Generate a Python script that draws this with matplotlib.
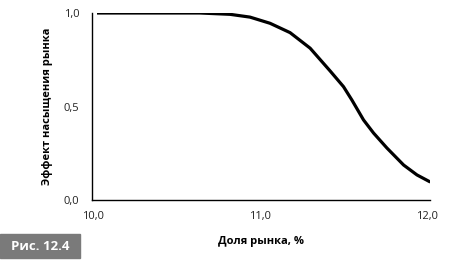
import matplotlib
matplotlib.use("Agg")
import matplotlib.pyplot as plt
from matplotlib.patches import Rectangle

share = [10.024, 10.64, 10.82, 10.94, 11.06, 11.18, 11.30, 11.42, 11.50, 11.55, 11.62, 11.68, 11.76, 11.86, 11.94, 12.02]
effect = [1.0, 1.0, 0.993, 0.978, 0.945, 0.895, 0.812, 0.690, 0.606, 0.535, 0.428, 0.358, 0.278, 0.187, 0.134, 0.096]
xticks = [10.0, 11.0, 12.0]
xtick_labels = ["10,0", "11,0", "12,0"]
yticks = [0.0, 0.5, 1.0]
ytick_labels = ["0,0", "0,5", "1,0"]

plt.rcParams['font.family'] = ['Open Sans', 'DejaVu Sans']

fig = plt.figure(figsize=(4.61, 2.69), dpi=100)
ax = fig.add_axes([92/461, 1 - 200/269, (430-92)/461, (200-13)/269])
ax.plot(share, effect, color="black", lw=2.3, solid_capstyle="butt", solid_joinstyle="round")
ax.set_xlim(10.0 - 1/167, 12.0 + 3/167)
ax.set_ylim(0, 1.0)
ax.set_xticks(xticks)
ax.set_xticklabels(xtick_labels)
ax.set_yticks(yticks)
ax.set_yticklabels(ytick_labels)
ax.tick_params(length=0, labelsize=8, colors="#222222", pad=9)
ax.tick_params(axis='x', pad=8)
for s in ["top", "right"]:
    ax.spines[s].set_visible(False)
for s in ["left", "bottom"]:
    ax.spines[s].set_linewidth(1.0)
ax.set_xlabel("Доля рынка, %", fontsize=8, fontweight="bold", labelpad=10)
ax.set_ylabel("Эффект насыщения рынка", fontsize=8, fontweight="bold", labelpad=8)

fig.patches.append(Rectangle((0, 1 - 258/269), 80/461, 24/269, transform=fig.transFigure,
                             color="#7a7a7a", zorder=5))
fig.text(40/461, 1 - 246/269, "Рис. 12.4", color="white", fontsize=9.5, fontweight="bold",
         ha="center", va="center", zorder=6)

fig.savefig("out.png", dpi=100)
